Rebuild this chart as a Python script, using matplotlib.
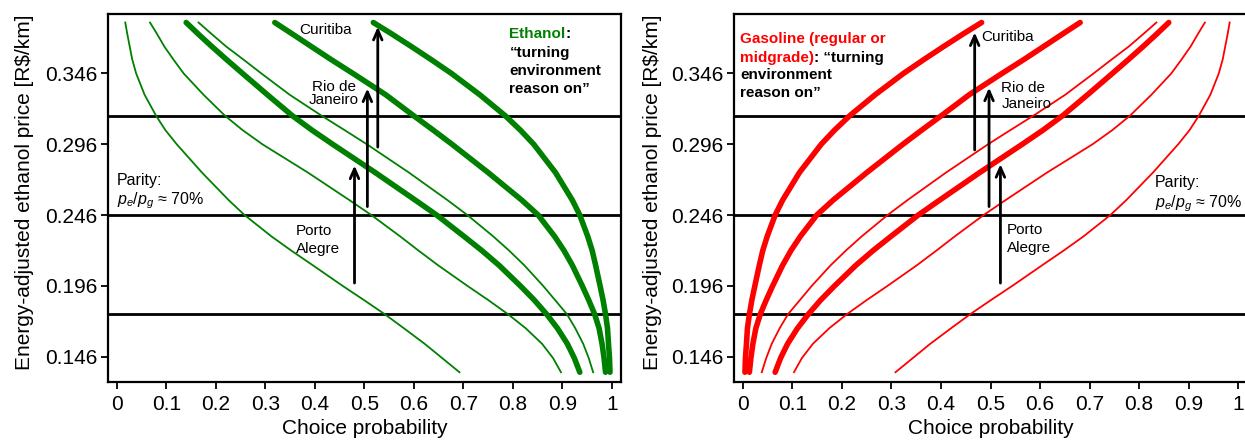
import numpy as np
import matplotlib.pyplot as plt

plt.rcParams['font.family'] = ['Liberation Sans', 'DejaVu Sans']
plt.rcParams['mathtext.fontset'] = 'custom'
plt.rcParams['mathtext.rm'] = 'Liberation Sans'
plt.rcParams['mathtext.it'] = 'Liberation Sans:italic'

# energy-adjusted ethanol price [R$/km] at which the curves are read
price = [0.382, 0.374, 0.365, 0.356, 0.346, 0.331, 0.3163, 0.306, 0.296, 0.276, 0.2565,
         0.246, 0.231, 0.221, 0.2105, 0.196, 0.186, 0.176, 0.166, 0.155, 0.145, 0.135]

# ethanol choice probability (thin = base, thick = "environment reason on")
eth_a = [0.017, 0.021, 0.026, 0.031, 0.039, 0.056, 0.079, 0.098, 0.121, 0.172, 0.226,
         0.258, 0.312, 0.352, 0.396, 0.456, 0.499, 0.541, 0.580, 0.622, 0.657, 0.692]
eth_b = [0.067, 0.081, 0.096, 0.114, 0.135, 0.175, 0.218, 0.254, 0.294, 0.386, 0.470,
         0.514, 0.572, 0.609, 0.649, 0.708, 0.750, 0.790, 0.826, 0.859, 0.881, 0.897]
eth_c = [0.140, 0.164, 0.192, 0.221, 0.254, 0.304, 0.354, 0.394, 0.436, 0.522, 0.603,
         0.646, 0.701, 0.737, 0.772, 0.815, 0.843, 0.868, 0.890, 0.910, 0.924, 0.935]
eth_d = [0.165, 0.191, 0.221, 0.255, 0.292, 0.349, 0.413, 0.460, 0.505, 0.590, 0.668,
         0.708, 0.760, 0.792, 0.823, 0.861, 0.885, 0.909, 0.926, 0.942, 0.953, 0.962]
eth_e = [0.319, 0.354, 0.393, 0.432, 0.477, 0.543, 0.599, 0.639, 0.677, 0.750, 0.818,
         0.851, 0.884, 0.903, 0.920, 0.940, 0.953, 0.965, 0.974, 0.980, 0.984, 0.987]
eth_f = [0.518, 0.555, 0.595, 0.634, 0.676, 0.733, 0.784, 0.815, 0.842, 0.886, 0.920,
         0.935, 0.951, 0.960, 0.967, 0.976, 0.982, 0.987, 0.991, 0.993, 0.995, 0.996]
thin_curves = [eth_a, eth_b, eth_d]
thick_curves = [eth_c, eth_e, eth_f]

ref_lines = [0.3163, 0.246, 0.1759]
yticks = [0.146, 0.196, 0.246, 0.296, 0.346]
xticks = [0, 0.1, 0.2, 0.3, 0.4, 0.5, 0.6, 0.7, 0.8, 0.9, 1]
xticklabels = ['0', '0.1', '0.2', '0.3', '0.4', '0.5', '0.6', '0.7', '0.8', '0.9', '1']

# city arrows: x, start price, end price
eth_arrows = [(0.480, 0.198, 0.281), (0.506, 0.252, 0.3354), (0.527, 0.294, 0.379)]
gas_arrows = [(0.520, 0.198, 0.282), (0.497, 0.252, 0.336), (0.468, 0.292, 0.375)]

green = '#008000'
red = '#ff0000'
fs_note = 11

fig = plt.figure(figsize=(12.45, 4.4), dpi=100)
ax1 = fig.add_axes([0.0867, 0.1318, 0.412, 0.836])
ax2 = fig.add_axes([0.5896, 0.1318, 0.412, 0.836])


def setup(ax):
    ax.set_xlim(-0.018, 1.018)
    ax.set_ylim(0.1281, 0.3879)
    ax.set_xticks(xticks)
    ax.set_xticklabels(xticklabels)
    ax.set_yticks(yticks)
    ax.set_yticklabels(['%.3f' % v for v in yticks])
    ax.tick_params(labelsize=15, width=1.3, length=5, direction='out')
    ax.tick_params(axis='y', pad=2.5)
    ax.tick_params(axis='x', pad=4)
    for s in ax.spines.values():
        s.set_linewidth(1.6)
    for y in ref_lines:
        ax.axhline(y, color='black', lw=2)
    ax.set_xlabel('Choice probability', fontsize=15)
    ax.set_ylabel('Energy-adjusted ethanol price [R$/km]', fontsize=15)
    ax.xaxis.set_label_coords(0.5, -0.1)


def arrows(ax, lst):
    for x, y0, y1 in lst:
        ax.annotate('', xy=(x, y1), xytext=(x, y0),
                    arrowprops=dict(arrowstyle='->, head_length=0.5, head_width=0.22',
                                    lw=2, color='black', mutation_scale=14,
                                    shrinkA=0, shrinkB=0))


def bold(ax, x, y, s, color='black'):
    return ax.text(x, y, s, fontsize=fs_note, fontweight='bold', color=color,
                   va='baseline')


def bold_after(t, s, color='black'):
    # continue a bold line right after text t, on the same baseline
    t.axes.annotate(s, xy=(1, 0), xycoords=t, fontsize=fs_note, fontweight='bold',
                    color=color, va='bottom', ha='left')


# ---- ethanol panel
setup(ax1)
ax1.yaxis.set_label_coords(-0.144, 0.515)
for c in thin_curves:
    ax1.plot(c, price, color=green, lw=1.3)
for c in thick_curves:
    ax1.plot(c, price, color=green, lw=4, solid_capstyle='round')
arrows(ax1, eth_arrows)
ax1.text(0.369, 0.377, 'Curitiba', fontsize=fs_note, va='center')
ax1.text(0.439, 0.332, 'Rio de\nJaneiro', fontsize=fs_note, va='center', ha='center',
         linespacing=0.95)
ax1.text(0.362, 0.2286, 'Porto\nAlegre', fontsize=fs_note, va='center', linespacing=1.35)
ax1.text(0.0, 0.2706, 'Parity:', fontsize=11.5, va='center')
ax1.text(0.0, 0.2565, r'$p_e/p_g$ ≈ 70%', fontsize=11.5, va='center')
ex = 0.793
t = bold(ax1, ex, 0.3709, 'Ethanol', green)
bold_after(t, ':')
bold(ax1, ex, 0.3579, '“turning')
bold(ax1, ex, 0.3450, 'environment')
bold(ax1, ex, 0.3325, 'reason on”')

# ---- gasoline panel (probabilities are the complement of ethanol's)
setup(ax2)
ax2.yaxis.set_label_coords(-0.140, 0.515)
for c in thin_curves:
    ax2.plot(1 - np.array(c), price, color=red, lw=1.3)
for c in thick_curves:
    ax2.plot(1 - np.array(c), price, color=red, lw=4, solid_capstyle='round')
arrows(ax2, gas_arrows)
ax2.text(0.481, 0.3718, 'Curitiba', fontsize=fs_note, va='center')
ax2.text(0.522, 0.330, 'Rio de\nJaneiro', fontsize=fs_note, va='center', linespacing=1.15)
ax2.text(0.533, 0.2291, 'Porto\nAlegre', fontsize=fs_note, va='center', linespacing=1.35)
ax2.text(0.832, 0.2688, 'Parity:', fontsize=11.5, va='center')
ax2.text(0.832, 0.254, r'$p_e/p_g$ ≈ 70%', fontsize=11.5, va='center')
gx = -0.0055
bold(ax2, gx, 0.3674, 'Gasoline (regular or', red)
t2 = bold(ax2, gx, 0.3544, 'midgrade)', red)
bold_after(t2, ': “turning')
bold(ax2, gx, 0.3420, 'environment')
bold(ax2, gx, 0.3293, 'reason on”')

fig.savefig('out.png', dpi=100)
